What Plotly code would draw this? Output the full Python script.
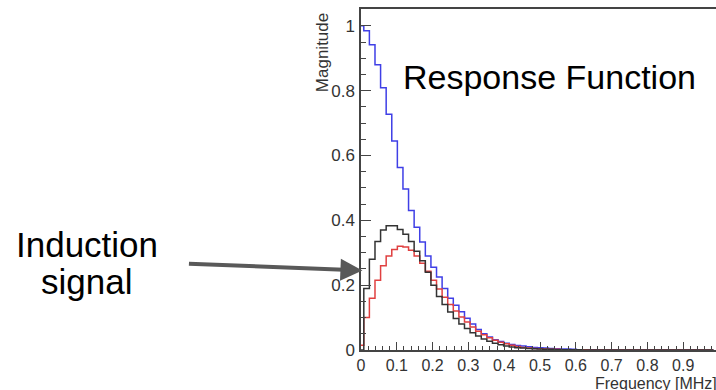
import numpy as np
import plotly.graph_objects as go

# Frequency bins (bin centres, MHz), bin width 1/64 MHz
freq = [k / 64 for k in range(64)]

response = [1.0, 0.985, 0.942, 0.88, 0.809, 0.727, 0.645, 0.563, 0.497, 0.43,
            0.379, 0.333, 0.29, 0.255, 0.225, 0.19, 0.16, 0.138, 0.118, 0.098,
            0.08, 0.063, 0.05, 0.04, 0.032, 0.026, 0.021, 0.017, 0.014, 0.012,
            0.01, 0.008, 0.007, 0.006, 0.005, 0.004, 0.003, 0.003, 0.002, 0.001,
            0.001, 0.001, 0.001, 0, 0, 0, 0, 0, 0, 0,
            0, 0, 0, 0, 0, 0, 0, 0, 0, 0,
            0, 0, 0, 0]

induction = [0.0, 0.19, 0.28, 0.335, 0.37, 0.383, 0.383, 0.372, 0.357, 0.335,
             0.305, 0.275, 0.24, 0.2, 0.165, 0.14, 0.117, 0.097, 0.08, 0.066,
             0.053, 0.043, 0.034, 0.027, 0.021, 0.016, 0.012, 0.009, 0.007, 0.006,
             0.005, 0.004, 0.003, 0.002, 0.002, 0.001, 0.001, 0.001, 0.001, 0.001,
             0, 0, 0, 0, 0, 0, 0, 0, 0, 0,
             0, 0, 0, 0, 0, 0, 0, 0, 0, 0,
             0, 0, 0, 0]

convolved = [0.015, 0.1, 0.16, 0.215, 0.26, 0.29, 0.31, 0.32, 0.318, 0.308,
             0.29, 0.268, 0.243, 0.215, 0.188, 0.163, 0.14, 0.12, 0.102, 0.086,
             0.071, 0.058, 0.047, 0.038, 0.03, 0.024, 0.019, 0.015, 0.011, 0.008,
             0.006, 0.005, 0.004, 0.003, 0.002, 0.002, 0.001, 0.001, 0.001, 0.001,
             0.001, 0, 0, 0, 0, 0, 0, 0, 0, 0,
             0, 0, 0, 0, 0, 0, 0, 0, 0, 0,
             0, 0, 0, 0]

x_ticks = [0, 0.1, 0.2, 0.3, 0.4, 0.5, 0.6, 0.7, 0.8, 0.9]
x_tick_text = ["0", "0.1", "0.2", "0.3", "0.4", "0.5", "0.6", "0.7", "0.8", "0.9"]
y_ticks = [0, 0.2, 0.4, 0.6, 0.8, 1.0]
y_tick_text = ["0", "0.2", "0.4", "0.6", "0.8", "1"]

FONT = "Liberation Sans, Arial, sans-serif"

fig = go.Figure()
for ys, col in [(response, "#3f3fe6"), (convolved, "#e04040"), (induction, "#333333")]:
    fig.add_trace(go.Scatter(x=freq, y=ys, mode="lines", line_shape="hvh",
                             line=dict(color=col, width=1.5), showlegend=False,
                             hoverinfo="skip"))

fig.update_layout(
    width=716, height=390,
    margin=dict(l=361, r=0, t=9, b=40),
    paper_bgcolor="white", plot_bgcolor="white",
    font=dict(family=FONT, color="#333"),
    xaxis=dict(range=[0, 0.9916], tickvals=x_ticks, ticktext=x_tick_text,
               showgrid=False, zeroline=False, showline=True, linecolor="#444",
               linewidth=1.5, mirror=True, ticks="inside", ticklen=8,
               tickcolor="#444", tickfont=dict(size=16, color="#333"),
               minor=dict(dtick=0.02, ticks="inside", ticklen=4, tickcolor="#444")),
    yaxis=dict(range=[0, 1.052], tickvals=y_ticks, ticktext=y_tick_text,
               showgrid=False, zeroline=False, showline=True, linecolor="#444",
               linewidth=1.5, ticks="inside", ticklen=10, tickcolor="#444",
               tickfont=dict(size=17, color="#333"),
               minor=dict(dtick=0.05, ticks="inside", ticklen=5, tickcolor="#444"),
               ticklabelstandoff=1),
)

anns = [
    dict(text="Response Function", xref="paper", yref="paper", x=0.113, y=0.80,
         xanchor="left", yanchor="middle", showarrow=False,
         font=dict(size=34, color="black", family=FONT)),
    dict(text="Magnitude", xref="paper", yref="paper", x=-0.11, y=0.995,
         xanchor="center", yanchor="top", textangle=-90, showarrow=False,
         font=dict(size=17, color="#333", family=FONT)),
    dict(text="Frequency [MHz]", xref="paper", yref="paper", x=1.0085, y=-0.099,
         xanchor="right", yanchor="middle", showarrow=False,
         font=dict(size=16, color="#333", family=FONT)),
    dict(text="Induction", xref="paper", yref="paper", x=-0.772, y=0.31,
         xanchor="center", yanchor="middle", showarrow=False,
         font=dict(size=35, color="black", family=FONT)),
    dict(text="signal", xref="paper", yref="paper", x=-0.772, y=0.20,
         xanchor="center", yanchor="middle", showarrow=False,
         font=dict(size=35, color="black", family=FONT)),
    dict(text="", xref="x", yref="y", x=0.004, y=0.245, showarrow=True,
         ax=-175, ay=-7, arrowhead=2, arrowsize=1.1, arrowwidth=4,
         arrowcolor="#595959", standoff=0),
]
fig.update_layout(annotations=anns)

fig.write_html("out.html")
